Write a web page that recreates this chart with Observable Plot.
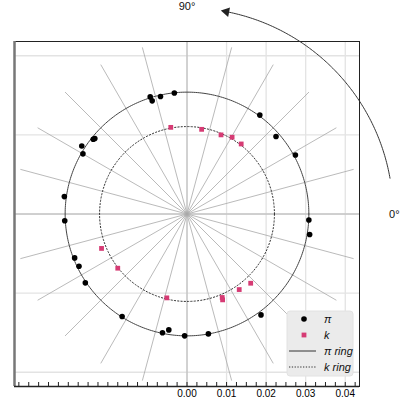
<!DOCTYPE html>
<html>
<head>
<meta charset="utf-8">
<script src="https://cdn.jsdelivr.net/npm/d3@7"></script>
<script src="https://cdn.jsdelivr.net/npm/@observablehq/plot@0.6"></script>
<style>
  html, body { margin: 0; padding: 0; background: white; }
  #wrap { position: relative; width: 400px; height: 401px; }
  #wrap svg { display: block; }
  #legend { position: absolute; left: 0; top: 0; pointer-events: none; }
</style>
</head>
<body>
<div id="wrap"></div>
<script>
// ---- data ----
const piX = [-0.0093, -0.0088, -0.0067, -0.0032, 0.0184, 0.0225, 0.0274, 0.0308, 0.0310, 0.0187, 0.0054, -0.0006,
             -0.0046, -0.0062, -0.0164, -0.0257, -0.0273, -0.0284, -0.0309, -0.0310, -0.0263, -0.0266, -0.0237, -0.0233];
const piY = [0.0296, 0.0286, 0.0297, 0.0306, 0.0250, 0.0196, 0.0149, -0.0015, -0.0052, -0.0255, -0.0303, -0.0308,
             -0.0293, -0.0300, -0.0259, -0.0174, -0.0132, -0.0111, -0.0017, 0.0044, 0.0152, 0.0172, 0.0189, 0.0191];
const kX = [-0.0041, 0.0037, 0.0086, 0.0114, 0.0137, -0.0216, -0.0175, -0.0051, 0.0089, 0.0090, 0.0132, 0.0161];
const kY = [0.0219, 0.0214, 0.0200, 0.0194, 0.0177, -0.0087, -0.0137, -0.0212, -0.0211, -0.0217, -0.0191, -0.0175];
const piRingRadius = 0.0308;
const kRingRadius = 0.0221;
const spokeAngles = [0, 15, 30, 45, 60, 75, 90, 105, 120, 135, 150, 165, 180, 195, 210, 225, 240, 255, 270, 285, 300, 315, 330, 345];
const xTickLabels = [0, 0.01, 0.02, 0.03, 0.04];
const xGrid = [0, 0.01, 0.02, 0.03, 0.04];
const yGrid = [-0.04, -0.02, 0, 0.02, 0.04];
const minorTicks = d3.range(-17, 18).map(i => i * 0.0025);
const angleLabels = [0, 90];
const arrowArc = [10, 79];
const legendLabels = ["π", "k", "π ring", "k ring"];

// ---- layout constants ----
const R = 0.0436;          // half-extent of the square frame (data units)
const labelR = 0.0524;     // radius of the 0° / 90° labels
const arcR = 0.0521;       // radius of the arrow arc
const pink = "#d63b74";
const rad = a => a * Math.PI / 180;

const pi = piX.map((x, i) => ({x, y: piY[i]}));
const k = kX.map((x, i) => ({x, y: kY[i]}));
const circle = r => d3.range(0, 361, 1).map(a => ({x: r * Math.cos(rad(a)), y: r * Math.sin(rad(a))}));
const arcPts = d3.range(arrowArc[0], arrowArc[1] + 0.01, 0.5).map(a => ({x: arcR * Math.cos(rad(a)), y: arcR * Math.sin(rad(a))}));

const chart = Plot.plot({
  width: 400,
  height: 401,
  marginLeft: 14,
  marginRight: 41,
  marginTop: 41,
  marginBottom: 15,
  style: {fontFamily: "Liberation Sans, Arial, sans-serif", fontSize: "10px", background: "white", overflow: "visible"},
  x: {domain: [-R, R], ticks: xTickLabels, tickSize: 0, tickPadding: 3, tickFormat: d3.format(".2f"), label: null},
  y: {domain: [-R, R], axis: null},
  marks: [
    Plot.ruleX(xGrid, {stroke: "#e3e3e3", strokeWidth: 1.3}),
    Plot.ruleY(yGrid, {stroke: "#e3e3e3", strokeWidth: 1.3}),
    Plot.link(spokeAngles, {
      x1: 0, y1: 0,
      x2: a => R * Math.cos(rad(a)), y2: a => R * Math.sin(rad(a)),
      stroke: "#a8a8a8", strokeWidth: 0.8
    }),
    Plot.line(circle(piRingRadius), {x: "x", y: "y", stroke: "#444", strokeWidth: 1}),
    Plot.line(circle(kRingRadius), {x: "x", y: "y", stroke: "#333", strokeWidth: 1, strokeDasharray: "1.3,2"}),
    Plot.dot(pi, {x: "x", y: "y", r: 2.8, fill: "black"}),
    Plot.dot(k, {x: "x", y: "y", symbol: "square", r: 2.7, fill: pink}),
    Plot.frame({stroke: "#222", strokeWidth: 1}),
    Plot.ruleX([-R], {stroke: "#777", strokeWidth: 2.5}),
    Plot.ruleY([-R], {stroke: "#222", strokeWidth: 1.3}),
    Plot.ruleX(minorTicks, {insetTop: 341, stroke: "#222", strokeWidth: 1}),
    Plot.line(arcPts, {x: "x", y: "y", stroke: "#333", strokeWidth: 1}),
    Plot.dot([arrowArc[1]], {
      x: a => arcR * Math.cos(rad(a)), y: a => arcR * Math.sin(rad(a)),
      symbol: "triangle", r: 3.6, fill: "#222", rotate: -arrowArc[1]
    }),
    Plot.text(angleLabels, {
      x: a => labelR * Math.cos(rad(a)), y: a => labelR * Math.sin(rad(a)),
      text: a => `${a}°`, fontSize: 11, fill: "#111"
    })
  ]
});

const wrap = document.getElementById("wrap");
wrap.appendChild(chart);

// ---- legend overlay ----
const leg = d3.select(wrap).append("svg").attr("id", "legend").attr("width", 400).attr("height", 401)
  .attr("font-family", "Liberation Sans, Arial, sans-serif");
leg.append("rect").attr("x", 287).attr("y", 311).attr("width", 66).attr("height", 65).attr("rx", 3)
  .attr("fill", "#ebebeb").attr("stroke", "#e2e2e2");
const rows = [319, 335, 351, 367];
leg.append("circle").attr("cx", 304).attr("cy", rows[0]).attr("r", 2.8).attr("fill", "black");
leg.append("rect").attr("x", 301.6).attr("y", rows[1] - 2.4).attr("width", 4.8).attr("height", 4.8).attr("fill", pink);
leg.append("line").attr("x1", 289).attr("x2", 316).attr("y1", rows[2]).attr("y2", rows[2]).attr("stroke", "#333").attr("stroke-width", 1);
leg.append("line").attr("x1", 289).attr("x2", 316).attr("y1", rows[3]).attr("y2", rows[3]).attr("stroke", "#333").attr("stroke-width", 1).attr("stroke-dasharray", "1.3,1.5");
legendLabels.forEach((t, i) => {
  leg.append("text").attr("x", 324).attr("y", rows[i]).attr("dy", "0.35em")
    .attr("font-size", 11).attr("font-style", "italic").attr("fill", "#111").text(t);
});
</script>
</body>
</html>
